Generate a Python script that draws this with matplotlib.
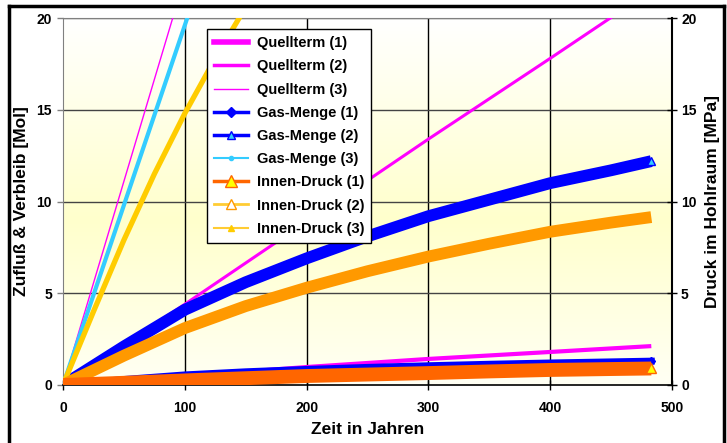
import numpy as np
import matplotlib
matplotlib.use("Agg")
import matplotlib.pyplot as plt
from matplotlib.lines import Line2D
from matplotlib.colors import LinearSegmentedColormap

plt.rcParams['font.family'] = ['Liberation Sans', 'DejaVu Sans']
plt.rcParams['font.weight'] = 'bold'

# ---------------- data ----------------
years = [0, 50, 100, 150, 200, 250, 300, 350, 400, 450, 483]
gas_menge_2 = [0, 2.1, 4.1, 5.6, 6.9, 8.1, 9.2, 10.1, 11.0, 11.7, 12.2]
innen_druck_2 = [0, 1.6, 3.1, 4.3, 5.3, 6.2, 7.0, 7.7, 8.35, 8.85, 9.15]
gas_menge_1 = [0, 0.3, 0.55, 0.72, 0.85, 0.96, 1.05, 1.13, 1.2, 1.26, 1.3]
innen_druck_1 = [0, 0.12, 0.25, 0.37, 0.49, 0.57, 0.65, 0.74, 0.82, 0.87, 0.9]

years_q = [0, 100, 200, 300, 400, 483]
quellterm_1 = [0, 0.48, 0.98, 1.42, 1.8, 2.12]
quellterm_2 = [0, 4.4, 8.9, 13.4, 17.8, 21.5]

years_q3 = [0, 50, 100]
quellterm_3 = [0, 11.1, 22.2]

years_g3 = [0, 25, 50, 75, 100, 110]
gas_menge_3 = [0, 4.9, 9.8, 14.7, 19.6, 21.6]

years_i3 = [0, 25, 50, 75, 100, 125, 150]
innen_druck_3 = [0, 4.0, 7.9, 11.5, 14.8, 17.8, 20.6]

labels = ["Quellterm (1)", "Quellterm (2)", "Quellterm (3)",
          "Gas-Menge (1)", "Gas-Menge (2)", "Gas-Menge (3)",
          "Innen-Druck (1)", "Innen-Druck (2)", "Innen-Druck (3)"]
x_ticks = [0, 100, 200, 300, 400, 500]
y_ticks = [0, 5, 10, 15, 20]

# ---------------- figure ----------------
W, H = 727, 443
fig = plt.figure(figsize=(W / 100, H / 100), dpi=100)
fig.patch.set_facecolor('white')

L, R, T, B = 63, 672, 18, 385
ax = fig.add_axes([L / W, 1 - B / H, (R - L) / W, (B - T) / H])
ax.set_xlim(0, 500)
ax.set_ylim(0, 20)

# gradient background
cmap = LinearSegmentedColormap.from_list(
    'bg', [(0, '#FFFFF4'), (0.45, '#FFFFCC'), (1.0, '#FFFFFF')])
grad = np.linspace(0, 1, 256).reshape(-1, 1)
ax.imshow(grad, extent=[0, 500, 0, 20], origin='lower', aspect='auto',
          cmap=cmap, zorder=0)

# grid
for xv in x_ticks[1:-1]:
    ax.axvline(xv, color='black', lw=1.0, zorder=1)
for yv in y_ticks[1:]:
    ax.axhline(yv, color='#444444', lw=1.0, zorder=1)

# primary series
ax.plot(years_q, quellterm_1, color='#FF00FF', lw=3.0, zorder=3, solid_capstyle='butt')
ax.plot(years_q, quellterm_2, color='#FF00FF', lw=2.2, zorder=3, solid_capstyle='butt')
ax.plot(years_q3, quellterm_3, color='#FF00FF', lw=1.0, zorder=3)
ax.plot(years, gas_menge_1, color='#0000FF', lw=5.0, zorder=4,
        marker='D', markevery=[len(years) - 1], ms=4, mfc='#0000FF', mec='#0000FF')
ax.plot(years, gas_menge_2, color='#0000FF', lw=8.5, zorder=4, solid_capstyle='butt',
        marker='^', markevery=[len(years) - 1], ms=6, mfc='#33CCFF', mec='#0000FF')
ax.plot(years_g3, gas_menge_3, color='#33CCFF', lw=3.0, zorder=4)

# secondary axis
ax2 = ax.twinx()
ax2.set_ylim(0, 20)
ax2.plot(years_i3, innen_druck_3, color='#FFCC00', lw=3.8, zorder=5)
ax2.plot(years, innen_druck_2, color='#FF9900', lw=8.5, zorder=5, solid_capstyle='butt')
ax2.plot(years, innen_druck_1, color='#FF6600', lw=10.0, zorder=6, solid_capstyle='butt',
         marker='^', markevery=[len(years) - 1], ms=7, mfc='#FFFF00', mec='#FF6600')

# spines & ticks
for a in (ax, ax2):
    for s in a.spines.values():
        s.set_visible(False)
ax.spines['left'].set_visible(True)
ax.spines['left'].set_color('#808080')
ax.spines['top'].set_visible(True)
ax.spines['top'].set_color('#808080')
ax.spines['bottom'].set_visible(True)
ax.spines['bottom'].set_color('black')
ax.spines['bottom'].set_linewidth(1.2)
ax2.spines['right'].set_visible(True)
ax2.spines['right'].set_color('black')
ax2.spines['right'].set_linewidth(1.5)

ax.set_xticks(x_ticks)
ax.set_yticks(y_ticks)
ax2.set_yticks(y_ticks)
ax.tick_params(axis='x', direction='inout', length=7, width=1, labelsize=10, pad=8)
ax.tick_params(axis='y', direction='out', length=4, width=1, color='#808080',
               labelsize=10, pad=4)
ax2.tick_params(axis='y', direction='inout', length=7, width=1, labelsize=10, pad=3)
for lab in ax.get_xticklabels() + ax.get_yticklabels() + ax2.get_yticklabels():
    lab.set_fontweight('bold')

ax.set_xlabel("Zeit in Jahren", fontsize=12.5, fontweight='bold', labelpad=5)
ax.set_ylabel("Zufluß & Verbleib [Mol]", fontsize=12.5, fontweight='bold', labelpad=5)
ax2.set_ylabel("Druck im Hohlraum [MPa]", fontsize=12.5, fontweight='bold', labelpad=6)

# legend
handles = [
    Line2D([], [], color='#FF00FF', lw=4),
    Line2D([], [], color='#FF00FF', lw=2.5),
    Line2D([], [], color='#FF00FF', lw=1.0),
    Line2D([], [], color='#0000FF', lw=2.5, marker='D', ms=5, mfc='#0000FF', mec='#0000FF'),
    Line2D([], [], color='#0000FF', lw=2.5, marker='^', ms=6, mfc='#33CCFF', mec='#0000FF'),
    Line2D([], [], color='#33CCFF', lw=1.5, marker='o', ms=3, mfc='#33CCFF', mec='#33CCFF'),
    Line2D([], [], color='#FF6600', lw=2.5, marker='^', ms=8, mfc='#FFFF00', mec='#FF6600'),
    Line2D([], [], color='#FFCC33', lw=2.0, marker='^', ms=7, mfc='white', mec='#FF9900'),
    Line2D([], [], color='#FFCC33', lw=1.5, marker='^', ms=4, mfc='#FFCC00', mec='#FFCC00'),
]
leg = fig.legend(handles, labels, loc='upper left',
                 bbox_to_anchor=(207 / W, 1 - 29 / H), borderaxespad=0,
                 frameon=True, fancybox=False, framealpha=1, edgecolor='black',
                 prop={'weight': 'bold', 'size': 10.5}, handlelength=2.3,
                 handletextpad=0.6, labelspacing=0.63, borderpad=0.5)
leg.get_frame().set_linewidth(1.0)
leg.set_zorder(20)

# outer border
fig.add_artist(Line2D([9 / W, 9 / W], [0, 1 - 6 / H], color='black', lw=2.5,
                      transform=fig.transFigure))
fig.add_artist(Line2D([9 / W, 724 / W], [1 - 6 / H, 1 - 6 / H], color='black', lw=2.5,
                      transform=fig.transFigure))
fig.add_artist(Line2D([724 / W, 724 / W], [0, 1 - 6 / H], color='black', lw=2.5,
                      transform=fig.transFigure))

fig.savefig("out.png", dpi=100)
